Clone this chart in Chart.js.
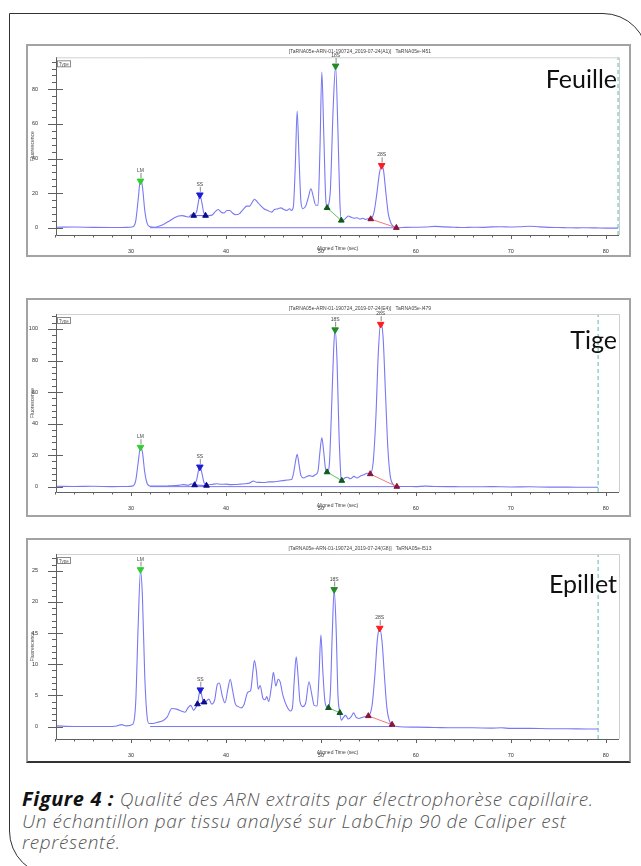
<!DOCTYPE html>
<html><head><meta charset="utf-8">
<script src="https://cdn.jsdelivr.net/npm/chart.js@4.4.1/dist/chart.umd.min.js"></script>
<style>
html,body{margin:0;padding:0;background:#fff;width:641px;height:866px;overflow:hidden;position:relative;}
.frame{position:absolute;left:9px;top:13px;width:639px;height:863px;border:1.5px solid #333;border-radius:0 45px 0 45px;box-sizing:border-box;}
.panel{position:absolute;left:26px;width:605px;border:2px solid #a3a3a3;box-sizing:border-box;background:#fff;}
canvas.c{position:absolute;left:26px;}
.tag{position:absolute;left:380px;width:237px;text-align:right;font:400 25px/25px Lato,sans-serif;color:#111;}
.cap{position:absolute;left:22px;top:788px;font:italic 300 19px/21.5px "Open Sans",sans-serif;letter-spacing:0.6px;color:#555;white-space:nowrap;}
.cap b{color:#111;font-weight:700;font-size:20px;letter-spacing:0.6px;}
</style></head><body>
<div class="frame"></div>
<div class="panel" style="top:44px;height:213px"></div>
<div class="panel" style="top:298px;height:219px"></div>
<div class="panel" style="top:538px;height:225px;border-bottom-color:#333"></div>
<canvas id="c1" class="c" width="605" height="213" style="top:44px;width:605px;height:213px"></canvas>
<canvas id="c2" class="c" width="605" height="219" style="top:298px;width:605px;height:219px"></canvas>
<canvas id="c3" class="c" width="605" height="225" style="top:538px;width:605px;height:225px"></canvas>
<div class="tag" style="top:66px">Feuille</div>
<div class="tag" style="top:327px">Tige</div>
<div class="tag" style="top:571px">Epillet</div>
<div class="cap"><b>Figure 4 :</b> Qualité des ARN extraits par électrophorèse capillaire.<br>Un échantillon par tissu analysé sur LabChip 90 de Caliper est<br>représenté.</div>
<script>
// ---------- data ----------
const xTicks = [30, 40, 50, 60, 70, 80];
const peakNames = ['LM', 'SS', '18S', '28S'];
const feuilleYTicks = [0, 20, 40, 60, 80];
const tigeYTicks = [0, 20, 40, 60, 80, 100];
const epilletYTicks = [0, 5, 10, 15, 20, 25];

const feuilleTitle = '[TaRNA05e-ARN-01-190724_2019-07-24(A1)]   TaRNA05e-I451';
const tigeTitle = '[TaRNA05e-ARN-01-190724_2019-07-24(E4)]   TaRNA05e-I479';
const epilletTitle = '[TaRNA05e-ARN-01-190724_2019-07-24(G8)]   TaRNA05e-I513';

const feuilleTime = [22.1,24,26,28,29.5,30.2,30.5,30.75,31.0,31.2,31.45,31.7,32.0,32.5,33.0,33.5,34.0,34.5,35.0,35.4,35.8,36.1,36.4,36.6,36.9,37.1,37.25,37.45,37.65,37.9,38.2,38.6,38.9,39.2,39.5,39.8,40.1,40.4,40.7,41.0,41.4,41.8,42.2,42.5,42.8,43.0,43.3,43.6,44.0,44.4,44.8,45.1,45.5,45.8,46.1,46.4,46.7,46.9,47.1,47.3,47.5,47.7,47.9,48.1,48.4,48.7,48.95,49.2,49.45,49.7,49.9,50.1,50.3,50.5,50.65,50.8,51.0,51.3,51.55,51.8,52.0,52.15,52.4,52.7,52.9,53.2,53.5,53.8,54.1,54.4,54.7,55.0,55.3,55.6,55.9,56.15,56.4,56.6,56.85,57.1,57.4,57.7,58.0,59,60,61,62,63,64,65,66,67,68,69,70,71,72,73,74,75,76,77,78,79,80,81.3];
const feuilleFluo = [0.3,0.4,0.2,0.1,0.2,0.6,4,16,28,24,10,2.5,0.6,0.3,1.0,2.2,3.8,5.5,6.8,7.0,6.5,6.2,7.8,7.5,9,15,19,15,9,7,7,7.5,9.5,10.5,9,8.5,10,10,8.5,7.5,8,10.5,12.5,12.5,15,16.5,15,13,11,10,9,10.5,11,11.5,10.5,10,11,10,12,35,67.5,40,15,11,12.5,18,22.5,18,13,13,45,90,55,18,11.5,13,22,70,93.5,55,15,4.5,4.5,6,6.8,6,5.5,5.8,5,5.5,4.8,5.3,5.5,9,20,31,36,33,20,8,2.5,0.6,0,0.2,0.3,0.4,0.8,0.5,0.3,0.1,0.3,0.2,0.5,0.6,0.4,0.6,0.9,0.5,0.2,0.1,0.0,-0.1,0.0,-0.1,-0.2,-0.2];
const feuillePeakTime = [31.0, 37.25, 51.55, 56.4];
const feuillePeakFluo = [27, 19, 93.5, 36];
const feuilleBoundTime = [36.6, 37.85, 50.65, 52.15, 55.25, 57.95];
const feuilleBoundFluo = [7, 7, 11.5, 4.2, 5, 0];
const feuilleBaseTime = [32.0, 58.0];
const feuilleBaseFluo = [0, 0];

const tigeTime = [22.1,24,26,28,29.5,30.2,30.5,30.75,31.0,31.2,31.45,31.7,32.0,33,34,35,35.5,36.0,36.3,36.6,36.9,37.1,37.25,37.45,37.7,38.0,38.5,39,39.5,40,40.5,41,41.5,42,42.5,42.9,43.2,43.6,44,44.5,45,45.5,46,46.5,46.9,47.1,47.3,47.5,47.7,47.9,48.2,48.5,48.8,49.1,49.4,49.7,49.9,50.1,50.3,50.5,50.7,50.9,51.1,51.35,51.5,51.7,51.9,52.1,52.2,52.5,52.8,53.1,53.5,53.8,54.1,54.5,54.9,55.2,55.5,55.8,56.05,56.3,56.55,56.8,57.05,57.3,57.6,58.0,59,60,61,62,64,66,68,70,72,74,76,78,79.2];
const tigeFluo = [0.2,0.1,0.2,0.0,0.1,0.5,4,15,25,22,9,2,0.4,0.3,0.5,0.8,1.3,0.9,1.6,1.8,4,10,13,9,2.5,1.2,1.4,1.8,1.5,1.6,1.3,1.4,1.6,1.8,2.3,3.6,2.8,2.7,2.6,3.0,3.0,3.4,3.8,4.2,4.5,8,15,20.5,14,7,5.5,6.5,7,6.5,7.5,10,22,31,22,11,9.5,15,45,88,100,80,35,7,3.8,5.5,6,5,6.5,5.5,6.5,7.5,8.5,8.5,15,45,85,104,95,60,25,7,1.5,0,0.1,0.0,0.3,0.1,0.0,-0.1,0.0,-0.2,-0.1,-0.3,-0.3,-0.4,-0.4];
const tigePeakTime = [31.0, 37.25, 51.5, 56.3];
const tigePeakFluo = [25, 12.5, 99.5, 103];
const tigeBoundTime = [36.7, 37.95, 50.65, 52.2, 55.2, 58.0];
const tigeBoundFluo = [1, 0.7, 9.2, 3.8, 8, 0];
const tigeBaseTime = [32.0, 58.0];
const tigeBaseFluo = [0, 0];

const epilletTime = [22.1,24,26,27.5,28.5,29,29.5,30.2,30.5,30.75,31.0,31.2,31.45,31.7,31.9,32.3,32.8,33.3,33.8,34.3,34.8,35.3,35.7,36.0,36.3,36.6,36.8,37.0,37.15,37.3,37.45,37.65,37.9,38.2,38.5,38.8,39.1,39.3,39.6,39.9,40.2,40.45,40.7,41.0,41.3,41.6,41.9,42.3,42.6,42.85,43.0,43.2,43.4,43.6,43.9,44.1,44.3,44.5,44.8,45.0,45.25,45.5,45.7,46.0,46.4,46.8,47.0,47.2,47.4,47.6,47.8,48.1,48.4,48.75,49.0,49.3,49.6,49.8,50.0,50.2,50.45,50.75,51.0,51.2,51.4,51.6,51.8,52.0,52.15,52.4,52.6,52.9,53.2,53.45,53.7,54.0,54.4,54.8,55.1,55.4,55.7,55.95,56.2,56.45,56.7,56.95,57.2,57.5,58.0,60,62,64,66,68,69,70,72,74,76,78,79.2];
const epilletFluo = [0.1,0.0,0.0,0.0,0.1,0.3,0.1,0.4,4,16,25,21,8,1.5,0.5,0.5,0.7,0.9,1.5,2.9,2.8,2.5,2.3,3.0,3.4,2.6,3.0,3.6,5.0,6.0,5.0,3.9,4.0,4.4,3.6,4.2,6.8,7.0,5.0,3.8,6.0,7.6,5.8,3.6,3.2,3.0,3.5,5.5,5.8,9.0,10.6,9.0,6.0,6.6,4.5,4.3,4.8,4.0,6.5,8.7,6.5,7.6,7.2,5.0,3.3,2.5,3.0,7.5,11.2,8.0,4.0,3.2,3.8,7.2,5.5,3.4,3.3,8.0,14.7,9.0,3.8,3.0,5.5,15,22,16,5,2.2,1.0,1.5,1.8,1.2,1.6,2.2,1.5,1.3,1.5,1.6,1.8,3.5,8.5,14,15.8,13.5,8.0,3.0,1.0,0.3,0.0,-0.1,-0.15,-0.2,-0.2,-0.25,-0.2,-0.3,-0.3,-0.35,-0.35,-0.4,-0.4];
const epilletPeakTime = [31.0, 37.3, 51.4, 56.2];
const epilletPeakFluo = [25.2, 5.9, 22, 15.8];
const epilletBoundTime = [37.0, 37.7, 50.8, 52.0, 55.0, 57.5];
const epilletBoundFluo = [3.6, 3.9, 3.0, 2.2, 1.7, 0.3];
const epilletBaseTime = [32.0, 57.5];
const epilletBaseFluo = [0, 0];

// ---------- styling ----------
const TRACE = '#7878f4';
const peakColors = ['#33cc33', '#1c1cd6', '#1f8c24', '#ff1c1c'];
const boundColors = ['#0b0b8c', '#0b0b8c', '#0f5a1c', '#0f5a1c', '#8b1538', '#8b1538'];
const boundLineColors = ['#5a5aff', '#62c062', '#f27878'];
const FONT = '"Liberation Sans", Arial, sans-serif';

const pts = (t, v) => t.map((x, i) => ({x, y: v[i]}));

const caliperPlugin = {
  id: 'caliper',
  afterDraw(chart, args, o) {
    const {ctx, chartArea: a, scales: {x, y}} = chart;
    ctx.save();
    ctx.lineWidth = 1;
    ctx.strokeStyle = '#d0d0d0';
    ctx.beginPath();
    ctx.moveTo(a.left, a.top + 0.5); ctx.lineTo(a.right + 0.5, a.top + 0.5); ctx.lineTo(a.right + 0.5, a.bottom);
    ctx.stroke();
    ctx.strokeStyle = '#606060';
    ctx.beginPath();
    ctx.moveTo(a.left + 0.5, a.top); ctx.lineTo(a.left + 0.5, a.bottom + 0.5); ctx.lineTo(a.right, a.bottom + 0.5);
    ctx.stroke();
    for (let k = 0; ; k++) {
      const v = o.yTicks[0] + k * o.minor;
      if (v > y.max) break;
      const major = o.yTicks.some(t => Math.abs(t - v) < 1e-6);
      const py = Math.round(y.getPixelForValue(v)) + 0.5;
      ctx.beginPath();
      ctx.moveTo(a.left - (major ? 8 : 4), py); ctx.lineTo(a.left + (major ? 7 : 0.5), py);
      ctx.stroke();
    }
    for (let v = 22; v <= x.max; v += 2) {
      const major = v % 10 === 0;
      const px = Math.round(x.getPixelForValue(v)) + 0.5;
      ctx.beginPath();
      ctx.moveTo(px, a.bottom); ctx.lineTo(px, a.bottom + (major ? 4 : 2.5));
      ctx.stroke();
    }
    ctx.font = '5px ' + FONT;
    ctx.textAlign = 'center';
    ctx.textBaseline = 'alphabetic';
    o.peakT.forEach((t, i) => {
      const px = x.getPixelForValue(t), py = y.getPixelForValue(o.peakV[i]);
      ctx.strokeStyle = '#888';
      ctx.beginPath(); ctx.moveTo(px + 0.5, py - 3); ctx.lineTo(px + 0.5, py - 8); ctx.stroke();
      ctx.fillStyle = '#444';
      ctx.fillText(peakNames[i], px, py - 9);
    });
    ctx.strokeStyle = '#8a8a8a';
    ctx.strokeRect(a.left + 1.5, a.top + 3.5, 13, 6);
    ctx.fillStyle = '#555';
    ctx.font = '4.5px ' + FONT;
    ctx.textAlign = 'left';
    ctx.fillText('Type', a.left + 3, a.top + 8.5);
    ctx.font = '5px ' + FONT;
    ctx.textAlign = 'center';
    ctx.fillStyle = '#444';
    ctx.fillText(o.title, 334, a.top - 4);
    ctx.fillText('Aligned Time (sec)', (a.left + a.right) / 2, a.bottom + 15);
    ctx.translate(8, (a.top + a.bottom) / 2);
    ctx.rotate(-Math.PI / 2);
    ctx.fillText('Fluorescence', 0, 0);
    ctx.restore();
  }
};

function makeChart(id, d) {
  const ds = [];
  ds.push({data: pts(d.peakT, d.peakV), showLine: false, pointStyle: 'triangle', rotation: 180,
    pointRadius: 3.8, backgroundColor: peakColors, borderColor: peakColors, borderWidth: 1});
  ds.push({data: pts(d.boundT, d.boundV), showLine: false, pointStyle: 'triangle',
    pointRadius: 3.3, backgroundColor: boundColors, borderColor: boundColors, borderWidth: 1});
  for (let j = 0; j < 3; j++) {
    ds.push({data: pts(d.boundT.slice(2 * j, 2 * j + 2), d.boundV.slice(2 * j, 2 * j + 2)), showLine: true,
      borderColor: boundLineColors[j], borderWidth: 1, pointRadius: 0});
  }
  ds.push({data: pts(d.time, d.fluo), showLine: true, borderColor: TRACE, borderWidth: 1.1,
    pointRadius: 0, cubicInterpolationMode: 'monotone'});
  ds.push({data: pts(d.baseT, d.baseV), showLine: true, borderColor: TRACE, borderWidth: 1, pointRadius: 0});
  d.dash.forEach(xv => ds.push({data: [{x: xv, y: d.yMin}, {x: xv, y: d.yMax}], showLine: true,
    borderColor: '#5ab8b0', borderWidth: 1, borderDash: [4, 3], pointRadius: 0}));

  return new Chart(document.getElementById(id), {
    type: 'scatter',
    data: {datasets: ds},
    plugins: [caliperPlugin],
    options: {
      responsive: false, animation: false, devicePixelRatio: 1,
      layout: {padding: {left: 0, right: 12, top: d.T, bottom: 0}},
      plugins: {legend: {display: false}, tooltip: {enabled: false},
        caliper: {yTicks: d.yTicks, minor: d.minor, peakT: d.peakT, peakV: d.peakV, title: d.title}},
      elements: {line: {tension: 0}},
      scales: {
        x: {type: 'linear', min: 22.1, max: 81.4, grid: {display: false}, border: {display: false},
          afterBuildTicks: s => { s.ticks = xTicks.map(v => ({value: v})); },
          afterFit: s => { s.height = d.H - d.B; },
          ticks: {padding: 5, color: '#333', font: {size: 5.5, family: FONT}, maxRotation: 0, autoSkip: false}},
        y: {type: 'linear', min: d.yMin, max: d.yMax, grid: {display: false}, border: {display: false},
          afterBuildTicks: s => { s.ticks = d.yTicks.map(v => ({value: v})); },
          afterFit: s => { s.width = 30; },
          ticks: {padding: 10, color: '#333', font: {size: 5.5, family: FONT}, autoSkip: false}}
      }
    }
  });
}

makeChart('c1', {time: feuilleTime, fluo: feuilleFluo, peakT: feuillePeakTime, peakV: feuillePeakFluo,
  boundT: feuilleBoundTime, boundV: feuilleBoundFluo, baseT: feuilleBaseTime, baseV: feuilleBaseFluo,
  yTicks: feuilleYTicks, minor: 4, yMin: -4.2, yMax: 98.5, dash: [22.15, 81.3], title: feuilleTitle,
  H: 213, T: 12, B: 191});
makeChart('c2', {time: tigeTime, fluo: tigeFluo, peakT: tigePeakTime, peakV: tigePeakFluo,
  boundT: tigeBoundTime, boundV: tigeBoundFluo, baseT: tigeBaseTime, baseV: tigeBaseFluo,
  yTicks: tigeYTicks, minor: 4, yMin: -3.4, yMax: 109.5, dash: [79.2], title: tigeTitle,
  H: 219, T: 16, B: 194});
makeChart('c3', {time: epilletTime, fluo: epilletFluo, peakT: epilletPeakTime, peakV: epilletPeakFluo,
  boundT: epilletBoundTime, boundV: epilletBoundFluo, baseT: epilletBaseTime, baseV: epilletBaseFluo,
  yTicks: epilletYTicks, minor: 1, yMin: -2.0, yMax: 27.7, dash: [79.2], title: epilletTitle,
  H: 225, T: 16, B: 201});
</script>
</body></html>
